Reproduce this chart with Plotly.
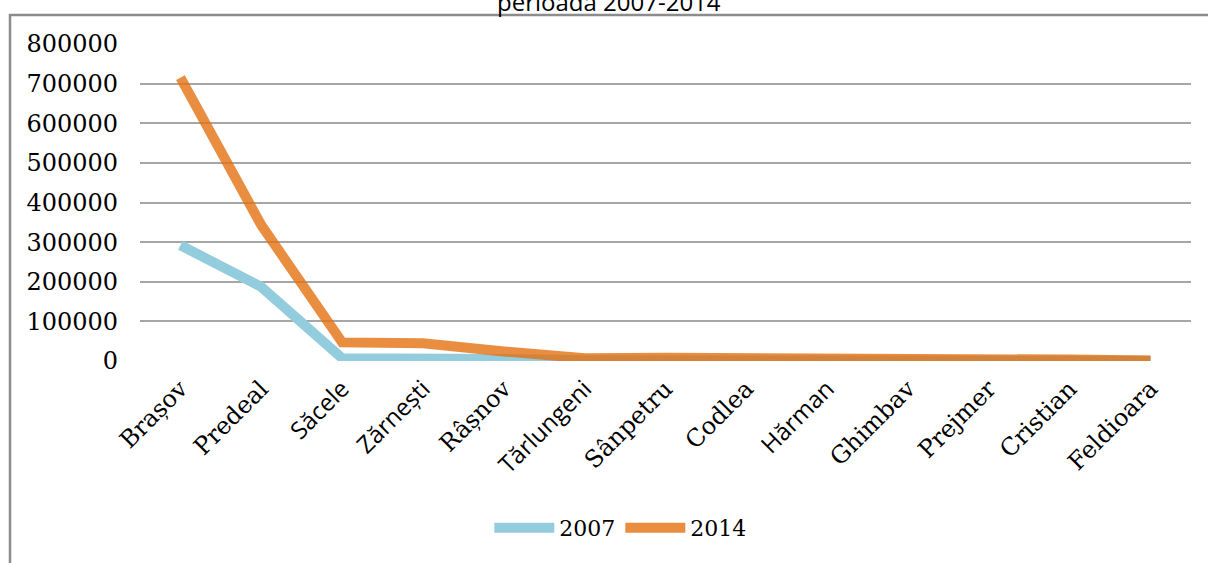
import plotly.graph_objects as go

categories = ["Brașov", "Predeal", "Săcele", "Zărnești", "Râșnov", "Tărlungeni", "Sânpetru",
              "Codlea", "Hărman", "Ghimbav", "Prejmer", "Cristian", "Feldioara"]
sans_labels = {"Săcele", "Zărnești", "Tărlungeni", "Hărman"}
values_2007 = [292000, 187000, 7000, 9000, 5000, 2000, 2500, 3000, 1500, 1500, 1500, 1500, 500]
values_2014 = [715000, 343000, 47000, 45000, 24000, 7000, 8000, 8000, 4000, 4000, 4000, 3500, 1000]
y_ticks = [0, 100000, 200000, 300000, 400000, 500000, 600000, 700000, 800000]
title_text = "perioada 2007-2014"

W, H = 1208, 563
L, R, T, B = 140, 17, 44, 202
pw, ph = W - L - R, H - T - B

def px_x(x):
    return (x - L) / pw

def px_y(y):
    return (H - B - y) / ph

tick_text = []
for c in categories:
    if c in sans_labels:
        tick_text.append(f'<span style="font-family:Open Sans,Arial,sans-serif">{c}</span>')
    else:
        tick_text.append(c)

fig = go.Figure()
fig.add_trace(go.Scatter(x=categories, y=values_2007, mode="lines", name="2007",
                         line=dict(color="#93CDDD", width=10)))
fig.add_trace(go.Scatter(x=categories, y=values_2014, mode="lines", name="2014",
                         line=dict(color="rgba(227,112,17,0.8)", width=10)))

fig.update_layout(
    width=W, height=H,
    margin=dict(l=L, r=R, t=T, b=B),
    paper_bgcolor="white", plot_bgcolor="white",
    font=dict(family="DejaVu Serif", color="black", size=20),
    showlegend=True,
    legend=dict(orientation="h", x=0.457, xanchor="center", y=px_y(528), yanchor="middle",
                font=dict(family="DejaVu Serif", size=22), itemwidth=60, tracegroupgap=0),
    xaxis=dict(type="category", tickmode="array", tickvals=categories, ticktext=tick_text,
               tickangle=-45, showgrid=False, showline=False, zeroline=False,
               ticks="", ticklabelstandoff=8,
               tickfont=dict(family="DejaVu Serif", size=24),
               range=[-0.5, len(categories) - 0.5]),
    yaxis=dict(range=[0, 800000], tickvals=y_ticks, ticktext=[str(v) for v in y_ticks],
               showgrid=True, gridcolor="#A6A6A6", gridwidth=1.5, zeroline=False,
               showline=False, ticks="", ticklabelstandoff=21,
               tickfont=dict(family="DejaVu Serif", size=24)),
    shapes=[dict(type="rect", xref="paper", yref="paper",
                 x0=px_x(10), x1=px_x(1230), y0=px_y(600), y1=px_y(15),
                 line=dict(color="#8C8C8C", width=2.5), fillcolor="rgba(0,0,0,0)", layer="below")],
    annotations=[dict(text=title_text, xref="paper", yref="paper", x=px_x(609), y=px_y(2),
                      xanchor="center", yanchor="middle", showarrow=False,
                      font=dict(family="Open Sans", size=24, color="black"))],
)

fig.write_html("out.html", config={"displayModeBar": False},
               post_script="document.body.style.margin='0';document.body.style.overflow='hidden';")
